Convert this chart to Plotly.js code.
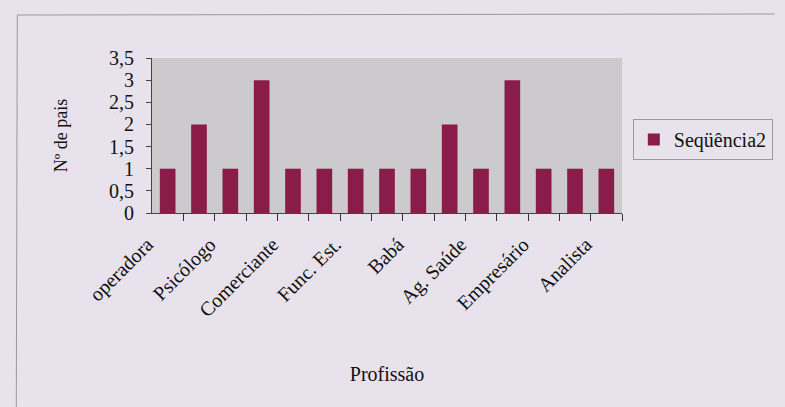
<!DOCTYPE html>
<html><head><meta charset="utf-8">
<script src="https://cdn.plot.ly/plotly-3.0.1.min.js"></script>
<style>html,body{margin:0;padding:0;background:#e7e2ec;}#c{width:785px;height:407px;}</style>
</head><body><div id="c"></div>
<script>
var categories = ["operadora","","Psicólogo","","Comerciante","","Func. Est.","","Babá","","Ag. Saúde","","Empresário","","Analista"];
var values = [1,2,1,3,1,1,1,1,1,2,1,3,1,1,1];
var seriesName = "Seqüência2";
var xIdx = categories.map(function(c,i){return i;});
// tick marks sit on category boundaries (i+0.5); each label is drawn half a category to the left
var tickPos = categories.map(function(c,i){return i+0.5;});
var yTicks = [0,0.5,1,1.5,2,2.5,3,3.5];

var L=152,R=630,T=58,B=213;
function px(x){return (x-L)/(R-L);}
function py(y){return (B-y)/(B-T);}
var catW = (R-L)/categories.length;

var fam = "Liberation Serif, Times New Roman, serif";
Plotly.newPlot("c",[{
  type:"bar", x:xIdx, y:values, name:seriesName,
  marker:{color:"#8a1c4a", line:{width:0}},
  showlegend:true
}],{
  width:785, height:407,
  margin:{l:L, r:785-R, t:T, b:407-B, pad:0},
  paper_bgcolor:"#e7e2ec", plot_bgcolor:"#cdcacd",
  separators:",.",
  font:{family:fam, color:"#111", size:20},
  bargap:0.5,
  xaxis:{range:[-0.5,14.5], tickmode:"array", tickvals:tickPos, ticktext:categories, tickangle:-45,
    ticks:"outside", ticklen:7, tickwidth:1, tickcolor:"#333",
    showgrid:false, zeroline:false, showline:true, linecolor:"#444", linewidth:1,
    ticklabelstandoff:4, ticklabelshift:-Math.round(catW/2)-20,
    tickfont:{family:fam, size:20, color:"#111"},
    title:{text:"Profissão", font:{family:fam, size:20, color:"#111"}, standoff:46}},
  yaxis:{range:[0,3.5], tickvals:yTicks, ticks:"outside", ticklen:5, tickcolor:"#444",
    showgrid:false, zeroline:false, showline:true, linecolor:"#444", linewidth:1,
    ticklabelstandoff:8,
    tickfont:{family:fam, size:20, color:"#111"},
    title:{text:"Nº de pais", font:{family:fam, size:18, color:"#111"}, standoff:36}},
  legend:{x:px(641), y:py(139.5), yanchor:"middle", xanchor:"left",
    bgcolor:"rgba(0,0,0,0)", bordercolor:"#999", borderwidth:1,
    font:{family:fam, size:20, color:"#111"}},
  shapes:[
    {type:"line", xref:"paper", yref:"paper", x0:px(15), x1:px(785), y0:py(15), y1:py(14), line:{color:"#999", width:1}},
    {type:"line", xref:"paper", yref:"paper", x0:px(15), x1:px(14), y0:py(15), y1:py(407), line:{color:"#999", width:1}}
  ]
},{displayModeBar:false, staticPlot:true});
</script></body></html>
